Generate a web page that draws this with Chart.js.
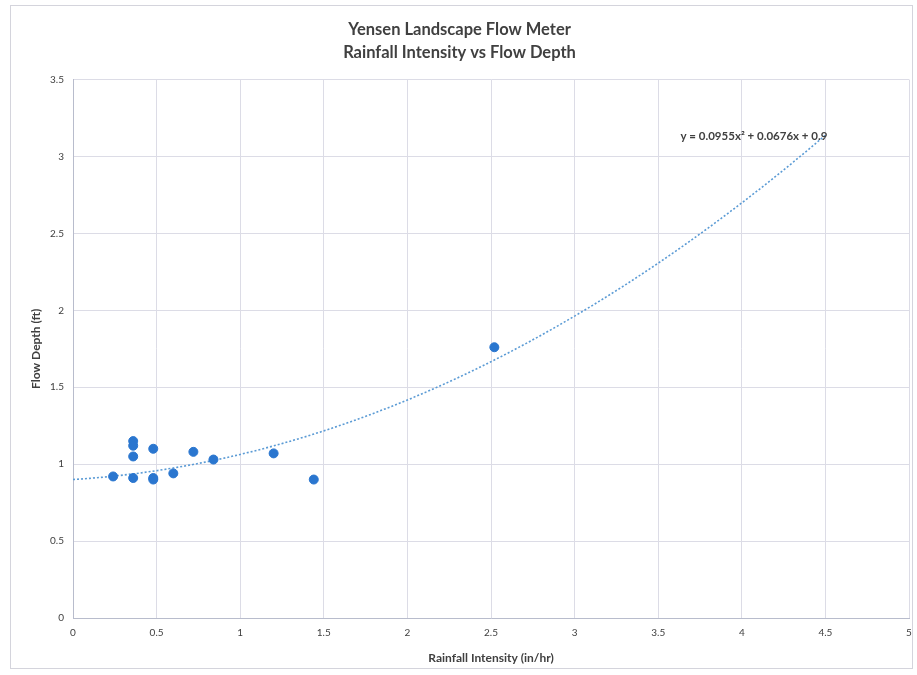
<!DOCTYPE html>
<html>
<head>
<meta charset="utf-8">
<script src="https://cdn.jsdelivr.net/npm/chart.js@4/dist/chart.umd.min.js"></script>
<style>
  html,body{margin:0;padding:0;background:#fff;}
  #wrap{width:917px;height:675px;}
</style>
</head>
<body>
<div id="wrap"><canvas id="flowChart" width="917" height="675"></canvas></div>
<script>
// Yensen Landscape Flow Meter - rainfall vs depth scatter with poly trendline
const rainfall = [0.24, 0.36, 0.36, 0.36, 0.36, 0.48, 0.48, 0.48, 0.60, 0.72, 0.84, 1.20, 1.44, 2.52];
const depth    = [0.92, 1.15, 1.12, 1.05, 0.91, 1.10, 0.91, 0.90, 0.94, 1.08, 1.03, 1.07, 0.90, 1.76];
const trendCoef = [0.0955, 0.0676, 0.9];   // a, b, c as printed on the chart
const trendRange = [0, 4.5];
const xTicks = [0, 0.5, 1, 1.5, 2, 2.5, 3, 3.5, 4, 4.5, 5];
const yTicks = [0, 0.5, 1, 1.5, 2, 2.5, 3, 3.5];
const titleLines = ['Yensen Landscape Flow Meter', 'Rainfall Intensity vs Flow Depth'];
const eqText = 'y = 0.0955x\u00B2 + 0.0676x + 0.9';

const FONT = 'Lato, "Open Sans", sans-serif';

// points along the fitted curve from the printed coefficients
const trendPts = [];
for(let i=0;i<=45;i++){
  const x = trendRange[0] + (trendRange[1]-trendRange[0])*i/45;
  trendPts.push({x:x, y:trendCoef[0]*x*x + trendCoef[1]*x + trendCoef[2]});
}

const framePlugin = {
  id:'frame',
  beforeDraw(c){
    const ctx = c.ctx;
    ctx.save();
    ctx.strokeStyle = '#d4d4dc';
    ctx.lineWidth = 1;
    ctx.strokeRect(10.5, 5.5, 902, 663);
    ctx.restore();
  },
  afterDatasetsDraw(c){
    const ctx = c.ctx, xs = c.scales.x, ys = c.scales.y;
    const last = trendPts[trendPts.length-1];
    ctx.save();
    ctx.font = 'bold 11.5px ' + FONT;
    ctx.fillStyle = '#404040';
    ctx.textAlign = 'right';
    ctx.textBaseline = 'middle';
    ctx.fillText(eqText, xs.getPixelForValue(last.x) + 2, ys.getPixelForValue(last.y) + 1);
    ctx.restore();
  }
};

new Chart(document.getElementById('flowChart'), {
  type:'scatter',
  data:{
    datasets:[
      { label:'Flow Depth', data: rainfall.map((r,i)=>({x:r, y:depth[i]})),
        backgroundColor:'#2a76cf', borderColor:'#2a76cf', pointRadius:4.5, pointHoverRadius:4.5, order:1 },
      { label:'Trend', type:'line', data: trendPts, showLine:true, borderColor:'#5b9bd5',
        borderWidth:1.6, borderDash:[2,2], pointRadius:0, fill:false, tension:0, order:2 }
    ]
  },
  options:{
    responsive:false, animation:false,
    layout:{ padding:{ left:10, right:8, top:0, bottom:0 } },
    plugins:{
      legend:{ display:false },
      tooltip:{ enabled:false },
      title:{ display:true, text:titleLines, color:'#404040',
        font:{ family:FONT, size:16.5, weight:'bold', lineHeight:1.35 },
        padding:{ top:19, bottom:16 } }
    },
    scales:{
      x:{ type:'linear', min:0, max:5,
        afterBuildTicks(s){ s.ticks = xTicks.map(v=>({value:v})); },
        afterFit(s){ s.height = 57; s.paddingRight = 0; s.paddingLeft = 0; },
        grid:{ color:'#dcdce6', drawTicks:false },
        border:{ color:'#b8bccc' },
        ticks:{ color:'#404040', padding:9, font:{ family:FONT, size:10 }, callback:v=>String(v) },
        title:{ display:true, text:'Rainfall Intensity (in/hr)', color:'#404040',
          font:{ family:FONT, size:12, weight:'bold' }, padding:{ top:4, bottom:10 } } },
      y:{ type:'linear', min:0, max:3.5,
        afterBuildTicks(s){ s.ticks = yTicks.map(v=>({value:v})); },
        afterFit(s){ s.width = 63; },
        grid:{ color:'#dcdce6', drawTicks:false },
        border:{ color:'#b8bccc' },
        ticks:{ color:'#404040', padding:9, font:{ family:FONT, size:10 }, callback:v=>String(v) },
        title:{ display:true, text:'Flow Depth (ft)', color:'#404040',
          font:{ family:FONT, size:12, weight:'bold' }, padding:{ top:19, bottom:4 } } }
    }
  },
  plugins:[framePlugin]
});
</script>
</body>
</html>
